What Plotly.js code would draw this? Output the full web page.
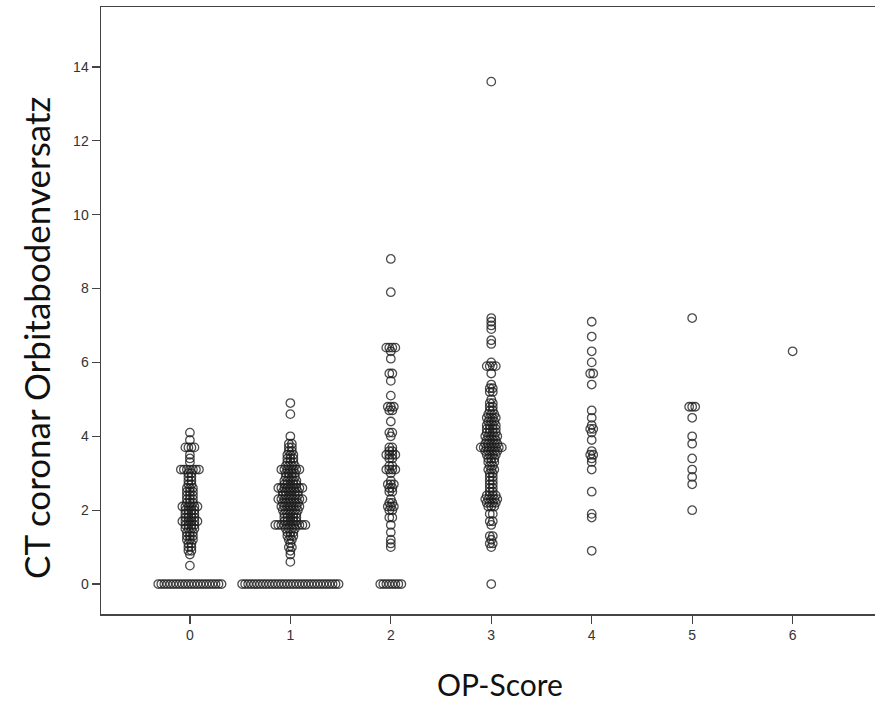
<!DOCTYPE html>
<html>
<head>
<meta charset="utf-8">
<script src="https://cdn.plot.ly/plotly-3.0.1.min.js"></script>
<style>
  html, body { margin: 0; padding: 0; background: #fff; overflow: hidden; }
  #chart { width: 875px; height: 704px; }
</style>
</head>
<body>
<div id="chart"></div>
<script>
// OP-Score categories
const scores = [0, 1, 2, 3, 4, 5, 6];
const xTickLabels = ["0", "1", "2", "3", "4", "5", "6"];
const yTickValues = [0, 2, 4, 6, 8, 10, 12, 14];

// distinct measured values (CT coronar Orbitabodenversatz) per OP-Score, with how often each occurs
const score0Levels = [0, 0.5, 0.8, 0.9, 1.0, 1.1, 1.2, 1.3, 1.4, 1.5, 1.6, 1.7, 1.8, 1.9, 2.0, 2.1, 2.2, 2.3, 2.4, 2.5, 2.6, 2.7, 2.8, 2.9, 3.0, 3.1, 3.3, 3.4, 3.5, 3.7, 3.9, 4.1];
const score0Counts = [22, 1, 1, 2, 2, 2, 3, 3, 3, 4, 4, 6, 4, 4, 4, 6, 3, 3, 3, 3, 3, 2, 2, 2, 2, 7, 1, 1, 1, 4, 1, 1];

const score1Levels = [0, 0.6, 0.8, 0.9, 1.0, 1.1, 1.2, 1.3, 1.4, 1.5, 1.6, 1.7, 1.8, 1.9, 2.0, 2.1, 2.2, 2.3, 2.4, 2.5, 2.6, 2.7, 2.8, 2.9, 3.0, 3.1, 3.2, 3.3, 3.4, 3.5, 3.6, 3.7, 3.8, 4.0, 4.6, 4.9];
const score1Counts = [33, 1, 1, 1, 2, 1, 2, 3, 3, 4, 11, 5, 5, 5, 6, 7, 6, 9, 6, 6, 9, 5, 5, 4, 4, 7, 4, 3, 3, 3, 2, 2, 2, 1, 1, 1];

const score2Levels = [0, 1.0, 1.1, 1.2, 1.4, 1.6, 1.8, 2.0, 2.1, 2.2, 2.3, 2.5, 2.6, 2.7, 2.8, 3.0, 3.1, 3.2, 3.4, 3.5, 3.6, 3.7, 4.0, 4.1, 4.4, 4.7, 4.8, 5.1, 5.5, 5.7, 6.1, 6.3, 6.4, 7.9, 8.8];
const score2Counts = [8, 1, 1, 1, 1, 1, 2, 2, 3, 2, 1, 2, 2, 3, 1, 1, 4, 2, 2, 4, 2, 2, 1, 2, 1, 2, 3, 1, 1, 2, 1, 1, 4, 1, 1];

const score3Levels = [0, 1.0, 1.1, 1.2, 1.3, 1.6, 1.7, 1.9, 2.1, 2.2, 2.3, 2.4, 2.5, 2.6, 2.7, 2.8, 2.9, 3.0, 3.1, 3.2, 3.3, 3.4, 3.5, 3.6, 3.7, 3.8, 3.9, 4.0, 4.1, 4.2, 4.3, 4.4, 4.5, 4.6, 4.7, 4.8, 4.9, 5.0, 5.2, 5.3, 5.4, 5.7, 5.9, 6.0, 6.5, 6.6, 6.9, 7.0, 7.1, 7.2, 13.6];
const score3Counts = [1, 1, 2, 1, 2, 1, 2, 2, 3, 4, 5, 4, 2, 2, 2, 2, 2, 2, 3, 2, 3, 3, 4, 5, 8, 5, 4, 5, 4, 4, 4, 3, 4, 3, 2, 2, 2, 1, 2, 2, 1, 1, 4, 1, 1, 1, 1, 1, 1, 1, 1];

const score4Levels = [0.9, 1.8, 1.9, 2.5, 3.1, 3.3, 3.4, 3.5, 3.6, 3.9, 4.1, 4.2, 4.3, 4.5, 4.7, 5.4, 5.7, 6.0, 6.3, 6.7, 7.1];
const score4Counts = [1, 1, 1, 1, 1, 1, 1, 2, 1, 1, 1, 2, 1, 1, 1, 1, 2, 1, 1, 1, 1];

const score5Levels = [2.0, 2.7, 2.9, 3.1, 3.4, 3.8, 4.0, 4.5, 4.8, 7.2];
const score5Counts = [1, 1, 1, 1, 1, 1, 1, 1, 3, 1];

const score6Levels = [6.3];
const score6Counts = [1];

const allLevels = [score0Levels, score1Levels, score2Levels, score3Levels, score4Levels, score5Levels, score6Levels];
const allCounts = [score0Counts, score1Counts, score2Counts, score3Counts, score4Counts, score5Counts, score6Counts];

// dot-plot layout: identical values in one category are spread sideways around the category
const SPREAD = 0.03; // x-units between stacked duplicates
const xs = [], ys = [];
scores.forEach((s, k) => {
  allLevels[k].forEach((v, j) => {
    const n = allCounts[k][j];
    for (let i = 0; i < n; i++) {
      xs.push(s + (i - (n - 1) / 2) * SPREAD);
      ys.push(v);
    }
  });
});

const trace = {
  type: 'scatter',
  mode: 'markers',
  x: xs,
  y: ys,
  marker: {
    symbol: 'circle-open',
    size: 8.5,
    color: 'rgba(30,30,30,0.8)',
    line: { width: 1.3, color: 'rgba(30,30,30,0.8)' }
  },
  hoverinfo: 'x+y'
};

const axisFont = { family: 'Liberation Sans, Arial, sans-serif', size: 14, color: '#333' };
const frameColor = '#444';

const layout = {
  width: 875,
  height: 704,
  margin: { l: 101, r: 0, t: 7, b: 90, pad: 0 },
  paper_bgcolor: '#fff',
  plot_bgcolor: '#fff',
  showlegend: false,
  xaxis: {
    range: [-0.885, 6.82],
    tickvals: scores,
    ticktext: xTickLabels,
    ticks: 'outside',
    ticklen: 8,
    tickwidth: 1.3,
    tickcolor: frameColor,
    showline: true,
    linecolor: frameColor,
    linewidth: 1.5,
    mirror: true,
    showgrid: false,
    zeroline: false,
    tickfont: axisFont,
    fixedrange: true
  },
  yaxis: {
    range: [-0.81, 15.62],
    tickvals: yTickValues,
    ticks: 'outside',
    ticklen: 8,
    tickwidth: 1.3,
    tickcolor: frameColor,
    showline: true,
    linecolor: frameColor,
    linewidth: 1.5,
    showgrid: false,
    zeroline: false,
    tickfont: axisFont,
    fixedrange: true
  },
  annotations: [
    {
      text: 'OP-Score',
      xref: 'paper', yref: 'paper',
      x: (500 - 101) / 774, y: -(684 - 614) / 607,
      xanchor: 'center', yanchor: 'middle',
      showarrow: false,
      font: { family: 'Lato, Open Sans, sans-serif', size: 30, color: '#111' }
    },
    {
      text: 'CT coronar Orbitabodenversatz',
      xref: 'paper', yref: 'paper',
      x: -(101 - 36) / 774, y: (614 - 338) / 607,
      xanchor: 'center', yanchor: 'middle',
      textangle: -90,
      showarrow: false,
      font: { family: 'Lato, Open Sans, sans-serif', size: 35, color: '#111' }
    }
  ]
};

Plotly.newPlot('chart', [trace], layout, { displayModeBar: false, staticPlot: true });
</script>
</body>
</html>
